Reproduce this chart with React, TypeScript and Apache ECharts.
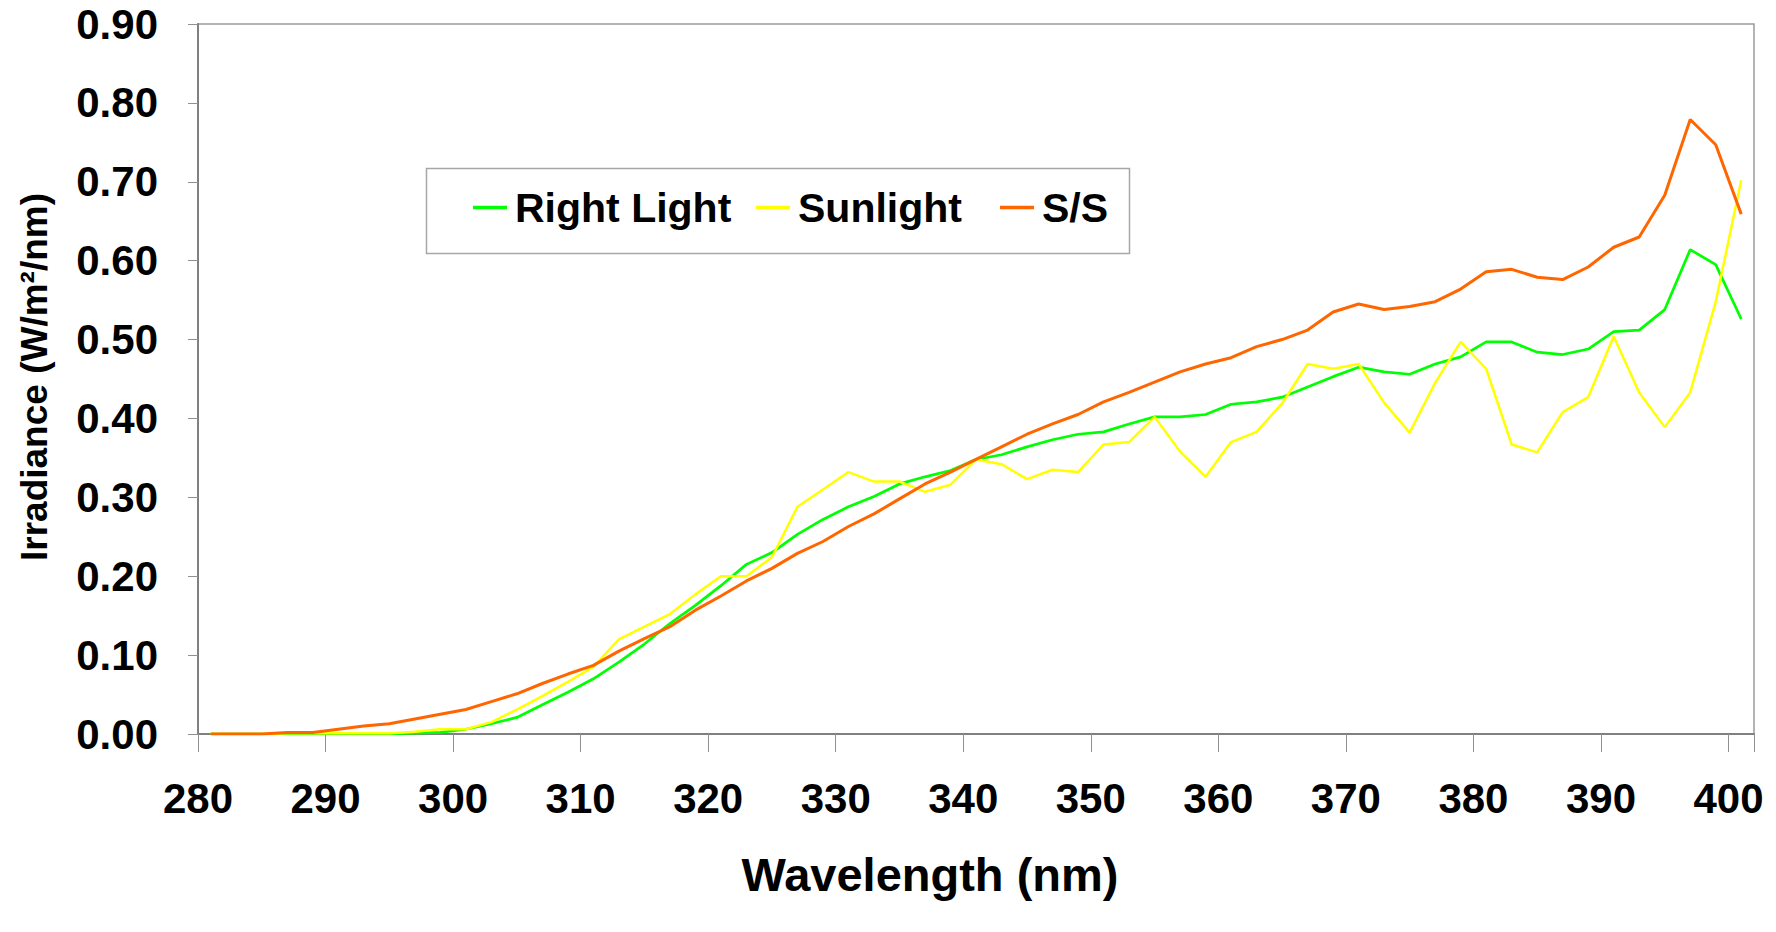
import React, { useEffect, useRef } from "react";
import * as echarts from "echarts";

const wavelengths = [
  281, 283, 285, 287, 289, 291, 293, 295, 297, 299, 301, 303, 305, 307, 309, 311, 313, 315, 317, 319,
  321, 323, 325, 327, 329, 331, 333, 335, 337, 339, 341, 343, 345, 347, 349, 351, 353, 355, 357, 359,
  361, 363, 365, 367, 369, 371, 373, 375, 377, 379, 381, 383, 385, 387, 389, 391, 393, 395, 397, 399, 401,
];

const rightLight = [
  0, 0, 0, 0, 0, 0, 0, 0, 0.001, 0.002, 0.006, 0.013, 0.021, 0.037, 0.053, 0.07, 0.091, 0.114, 0.14, 0.163,
  0.188, 0.215, 0.23, 0.253, 0.272, 0.288, 0.301, 0.317, 0.326, 0.334, 0.348, 0.354, 0.364, 0.373, 0.38, 0.383, 0.393, 0.402, 0.402, 0.405,
  0.418, 0.421, 0.427, 0.44, 0.453, 0.465, 0.459, 0.456, 0.469, 0.478, 0.497, 0.497, 0.484, 0.481, 0.488, 0.51, 0.512, 0.538, 0.614, 0.595, 0.526,
];

const sunlight = [
  0, 0, 0, 0.001, 0.001, 0.001, 0.001, 0.001, 0.003, 0.006, 0.006, 0.015, 0.031, 0.048, 0.066, 0.085, 0.12, 0.136, 0.152, 0.177,
  0.2, 0.2, 0.224, 0.288, 0.31, 0.332, 0.32, 0.32, 0.307, 0.316, 0.348, 0.342, 0.323, 0.335, 0.332, 0.367, 0.37, 0.402, 0.358, 0.326,
  0.37, 0.383, 0.419, 0.469, 0.463, 0.469, 0.42, 0.382, 0.445, 0.497, 0.463, 0.367, 0.357, 0.408, 0.427, 0.504, 0.433, 0.389, 0.433, 0.548, 0.702,
];

const ss = [
  0, 0, 0, 0.002, 0.002, 0.006, 0.01, 0.013, 0.019, 0.025, 0.031, 0.041, 0.051, 0.064, 0.076, 0.087, 0.105, 0.121, 0.136, 0.157,
  0.175, 0.194, 0.21, 0.229, 0.244, 0.263, 0.279, 0.298, 0.317, 0.332, 0.348, 0.364, 0.38, 0.393, 0.405, 0.421, 0.433, 0.446, 0.459, 0.469,
  0.477, 0.491, 0.5, 0.512, 0.535, 0.545, 0.538, 0.542, 0.548, 0.564, 0.586, 0.589, 0.579, 0.576, 0.592, 0.617, 0.63, 0.683, 0.779, 0.747, 0.659,
];

const seriesNames = ["Right Light", "Sunlight", "S/S"];
const seriesColors = ["#00FF00", "#FFFF00", "#FF6600"];
const seriesWidths = [2.7, 2.5, 3];
const seriesValues = [rightLight, sunlight, ss];

const xTitle = "Wavelength (nm)";
const yTitle = "Irradiance (W/m²/nm)";

const FONT = '"Liberation Sans", Arial, sans-serif';

export default function App() {
  const ref = useRef<HTMLDivElement>(null);

  useEffect(() => {
    if (!ref.current) return;
    const chart = echarts.init(ref.current, undefined, { renderer: "svg" });

    const legendLefts = [473, 756, 1000];

    const option: any = {
      animation: false,
      backgroundColor: "#ffffff",
      grid: {
        left: 198,
        right: 22,
        top: 24,
        bottom: 198,
        show: true,
        borderColor: "#9a9a9a",
        borderWidth: 1.5,
        backgroundColor: "transparent",
      },
      xAxis: {
        type: "value",
        min: 280,
        max: 402,
        interval: 10,
        splitLine: { show: false },
        axisLine: { show: true, onZero: false, lineStyle: { color: "#808080", width: 2 } },
        axisTick: { show: true, length: 18, lineStyle: { color: "#909090", width: 1 } },
        axisLabel: {
          margin: 43,
          fontSize: 42,
          fontWeight: "bold",
          fontFamily: FONT,
          color: "#000",
          formatter: (v: number) => (v % 10 === 0 ? String(v) : ""),
        },
      },
      yAxis: {
        type: "value",
        min: 0,
        max: 0.9,
        interval: 0.1,
        splitLine: { show: false },
        axisLine: { show: true, lineStyle: { color: "#808080", width: 2 } },
        axisTick: { show: true, length: 10, lineStyle: { color: "#909090", width: 1 } },
        axisLabel: {
          margin: 40,
          fontSize: 42,
          fontWeight: "bold",
          fontFamily: FONT,
          color: "#000",
          formatter: (v: number) => v.toFixed(2),
        },
      },
      legend: seriesNames.map((name, i) => ({
        data: [name],
        left: legendLefts[i],
        top: 187,
        padding: 0,
        itemWidth: 34,
        itemHeight: 3.5,
        icon: "rect",
        itemGap: 0,
        selectedMode: false,
        textStyle: { fontSize: 41, fontWeight: "bold", fontFamily: FONT, color: "#000", padding: [0, 0, 0, 3] },
      })),
      graphic: [
        {
          type: "rect",
          z: -1,
          shape: { x: 426.5, y: 168.5, width: 703, height: 85 },
          style: { fill: "#ffffff", stroke: "#a6a6a6", lineWidth: 1.5 },
        },
        {
          type: "text",
          x: 930,
          y: 874,
          style: {
            text: xTitle,
            font: `bold 47px ${FONT}`,
            fill: "#000",
            align: "center",
            verticalAlign: "middle",
          },
        },
        {
          type: "text",
          x: 34,
          y: 377,
          rotation: Math.PI / 2,
          style: {
            text: yTitle,
            font: `bold 37px ${FONT}`,
            fill: "#000",
            align: "center",
            verticalAlign: "middle",
          },
        },
      ],
      series: seriesNames.map((name, i) => ({
        name,
        type: "line",
        data: wavelengths.map((w, j) => [w, seriesValues[i][j]]),
        showSymbol: false,
        symbol: "none",
        color: seriesColors[i],
        lineStyle: { color: seriesColors[i], width: seriesWidths[i] },
      })),
    };

    chart.setOption(option);
    return () => chart.dispose();
  }, []);

  return (
    <div
      ref={ref}
      style={{ position: "absolute", left: 0, top: 0, width: 1776, height: 932, background: "#fff" }}
    />
  );
}
